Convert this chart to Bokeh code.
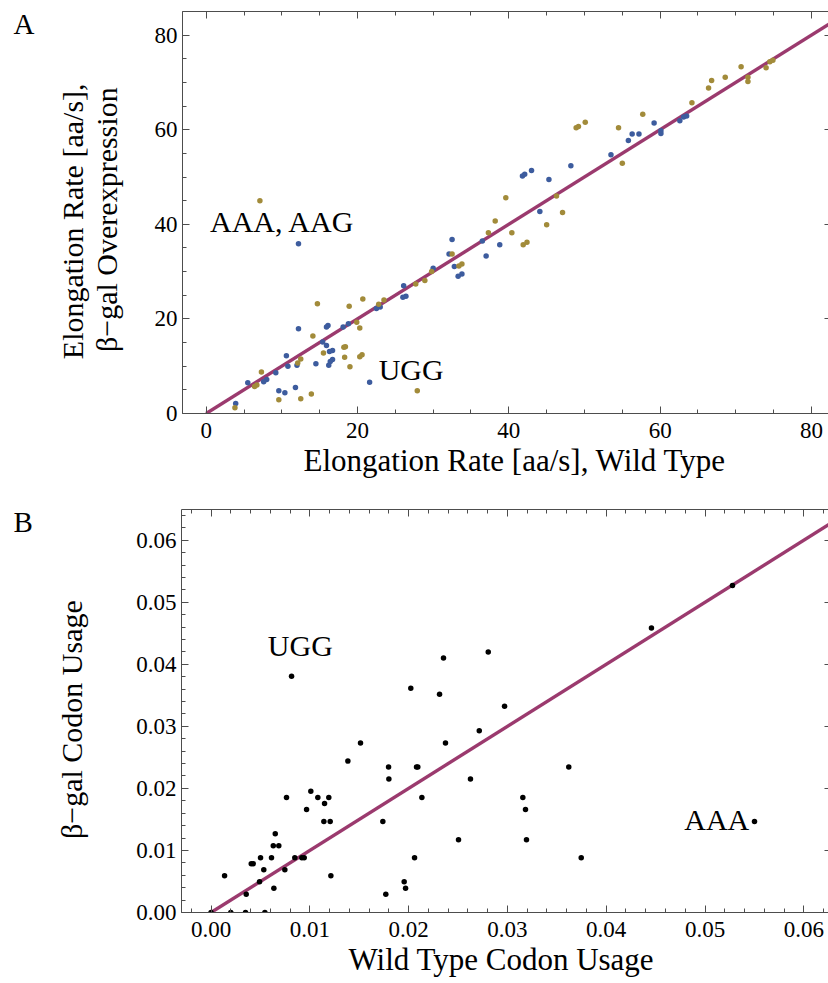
import math
from bokeh.plotting import figure
from bokeh.layouts import column, row
from bokeh.models import (Range1d, LinearAxis, SingleIntervalTicker, Label, Title,
                          PrintfTickFormatter, CustomJSTickFormatter)
from bokeh.embed import file_html
from bokeh.resources import INLINE

# ---------------- Panel A data: elongation rates [aa/s] ----------------
wt_blue = [12.2, 36.5, 38.8, 32.5, 32.1, 37.0, 32.8, 33.8, 33.3, 30.0, 26.1, 26.4, 26.0,
           23.0, 22.5, 18.1, 18.8, 16.1, 15.9, 12.2, 15.4, 15.9, 16.7, 16.3, 10.6, 10.8,
           12.0, 14.5, 16.7, 16.4, 16.2, 9.2, 8.0, 7.6, 5.5, 9.6, 10.4, 11.8, 3.9, 21.6,
           41.8, 42.1, 43.0, 45.3, 44.1, 48.2, 53.5, 55.8, 56.3, 57.2, 59.2, 60.1, 60.1,
           62.6, 63.1, 63.5]
oe_blue = [35.9, 36.5, 35.7, 36.8, 33.7, 33.3, 31.1, 29.5, 29.0, 30.7, 27.0, 24.8, 24.6,
           22.5, 22.2, 18.3, 19.0, 18.6, 18.3, 17.9, 15.1, 14.4, 13.3, 13.1, 12.2, 10.0,
           10.2, 10.5, 11.4, 11.0, 10.2, 8.6, 7.2, 6.7, 6.5, 4.8, 4.4, 5.5, 2.1, 6.6,
           50.2, 50.6, 51.4, 49.5, 42.7, 52.4, 54.7, 57.7, 59.1, 59.1, 61.4, 59.8, 59.2,
           61.9, 62.7, 62.9]
wt_gold = [7.1, 38.2, 37.3, 32.5, 33.8, 33.4, 29.8, 28.9, 27.7, 23.5, 22.8, 20.7, 18.9,
           14.7, 19.9, 20.3, 14.1, 18.2, 18.4, 15.5, 18.3, 20.3, 20.6, 19.0, 12.5, 12.1,
           7.3, 6.7, 6.4, 9.6, 12.5, 13.9, 3.8, 27.9, 39.6, 46.3, 47.1, 48.9, 49.2, 50.1,
           54.5, 55.0, 57.7, 64.2, 66.4, 66.8, 68.6, 70.7, 71.6, 71.6, 74.0, 74.5, 74.9,
           40.4, 45.0, 41.9, 42.4]
oe_gold = [45.0, 40.7, 38.2, 33.7, 31.6, 31.2, 30.0, 28.1, 27.4, 24.0, 23.1, 24.2, 22.7,
           23.2, 19.3, 18.1, 16.4, 14.0, 14.1, 12.8, 11.9, 12.0, 12.4, 9.9, 11.5, 10.7,
           8.8, 6.0, 5.7, 2.9, 3.1, 4.1, 1.2, 4.8, 45.6, 46.0, 42.5, 60.4, 60.7, 61.6,
           60.4, 52.9, 63.3, 65.7, 68.8, 70.4, 71.1, 73.3, 71.1, 70.2, 73.1, 74.4, 74.7,
           38.2, 39.9, 35.7, 36.2]
identity_a = [0, 85]

# ---------------- Panel B data: codon usage ----------------
wt_usage = [0.01513, 0.02373, 0.01385, 0.01797, 0.01800, 0.02080, 0.02093, 0.02134, 0.02626,
            0.00764, 0.01010, 0.01081, 0.01149, 0.01192, 0.00967, 0.01142, 0.01206, 0.01739,
            0.02505, 0.00650, 0.00630, 0.00686, 0.00501, 0.00612, 0.00848, 0.00919, 0.00943,
            0.00407, 0.00427, 0.00534, 0.00747, 0.00137, 0.00491, 0.01213, 0.00636, 0.00356,
            0.02060, 0.01955, 0.01969, 0.01769, 0.0, 0.00200, 0.00349, 0.00545, 0.00815,
            0.02022, 0.02313, 0.02353, 0.02806, 0.02715, 0.05278, 0.04458, 0.02971, 0.03621,
            0.03156, 0.03183, 0.03193, 0.03747, 0.05501]
bgal_usage = [0.02731, 0.02731, 0.02440, 0.02344, 0.02150, 0.02344, 0.02344, 0.01855, 0.02150,
              0.01855, 0.01956, 0.01855, 0.01758, 0.01855, 0.01661, 0.01468, 0.01468, 0.01468,
              0.01173, 0.01269, 0.01076, 0.01076, 0.00882, 0.00882, 0.00882, 0.00882, 0.00882,
              0.00785, 0.00785, 0.00689, 0.00689, 0.00592, 0.00495, 0.00592, 0.00392, 0.00295,
              0.00882, 0.00495, 0.00392, 0.00295, 0.0, 0.0, 0.0, 0.0, 0.03806,
              0.03613, 0.03516, 0.04102, 0.04198, 0.02931, 0.05269, 0.04585, 0.03323, 0.02344,
              0.01855, 0.01661, 0.01173, 0.00882, 0.01468]
identity_b = [0, 0.065]

FONT = "Liberation Serif"
AXC = "#4d4d4d"
LINEC = "#9b3a6e"
BLUE = "#3d5c9e"
GOLD = "#a28b3a"
LAB = "30px"
XLAB = "31px"
TICK = "23px"
SHIFT = 11   # compensates the renderer's baseline placement
RSHIFT = 22  # compensates the along-text drift of rotated labels


def style_axis(ax, interval, nminor, fmt=None, labels=True, line=True,
               major_in=7, minor_in=4, standoff=5):
    ax.ticker = SingleIntervalTicker(interval=interval, num_minor_ticks=nminor)
    ax.major_tick_in = major_in
    ax.major_tick_out = 0
    ax.minor_tick_in = minor_in
    ax.minor_tick_out = 0
    ax.axis_line_color = AXC if line else None
    ax.major_tick_line_color = AXC
    ax.minor_tick_line_color = AXC if minor_in else None
    ax.major_label_text_font = FONT
    ax.major_label_text_color = "black"
    if labels:
        ax.major_label_text_font_size = TICK
        ax.major_label_standoff = standoff
        if fmt:
            ax.formatter = PrintfTickFormatter(format=fmt)
    else:
        ax.formatter = CustomJSTickFormatter(code="return ''")
        ax.major_label_text_font_size = "1px"
        ax.major_label_standoff = 0


def add_text(p, text, x, y, rotated=False, align="left", style="normal", size=LAB):
    p.add_layout(Label(x=x, y=y, text=text, angle=(math.pi / 2 if rotated else 0.0),
                       x_offset=(-SHIFT if rotated else 0),
                       y_offset=(-RSHIFT if rotated else SHIFT),
                       text_align=align, text_baseline="alphabetic", text_font=FONT,
                       text_font_size=size, text_font_style=style, text_color="black"))


def side_panel(width, height, y_top):
    # blank strip left of a panel; its data units are page pixels
    s = figure(width=width, height=height, x_range=Range1d(0, width),
               y_range=Range1d(y_top + height, y_top), x_axis_type=None, y_axis_type=None,
               title=None, output_backend="svg", toolbar_location=None, min_border=0)
    s.outline_line_color = None
    return s


def x_title(p, text, offset):
    p.add_layout(Title(text=text, align="left", offset=offset, standoff=0,
                       text_font=FONT, text_font_size=XLAB, text_font_style="normal",
                       text_color="black"), "below")


# ================= Panel A =================
HA = 488
SWA = 140
pA = figure(width=828 - SWA, height=HA, x_range=Range1d(-3.13, 82.25), y_range=Range1d(0, 85),
            title=None, output_backend="svg", toolbar_location=None,
            min_border_left=182 - SWA, min_border_right=0, min_border_top=11,
            min_border_bottom=75)
pA.grid.visible = False
pA.outline_line_color = None
style_axis(pA.xaxis[0], 20, 4, standoff=9)
style_axis(pA.yaxis[0], 20, 4, standoff=5)
topA = LinearAxis()
rightA = LinearAxis()
pA.add_layout(topA, "above")
pA.add_layout(rightA, "right")
style_axis(topA, 20, 4, labels=False)
style_axis(rightA, 20, 4, labels=False, line=False, major_in=4, minor_in=0)
x_title(pA, "Elongation Rate [aa/s], Wild Type", 121)

pA.line(identity_a, identity_a, line_color=LINEC, line_width=3.4)
pA.scatter(wt_blue, oe_blue, size=5.5, fill_color=BLUE, line_color=None)
pA.scatter(wt_gold, oe_gold, size=5.5, fill_color=GOLD, line_color=None)

add_text(pA, "AAA, AAG", 0.5, 38.3)
add_text(pA, "UGG", 22.8, 7.07)

sA = side_panel(SWA, HA, 0)
add_text(sA, "A", 13, 29, size="29px")
add_text(sA, "Elongation Rate [aa/s],", 83, 228, rotated=True, align="center")
add_text(sA, "\u03b2\u2212gal Overexpression", 117, 226, rotated=True, align="center")

# ================= Panel B =================
HB = 495
SWB = 125
pB = figure(width=828 - SWB, height=HB, x_range=Range1d(-0.00299, 0.0625),
            y_range=Range1d(0, 0.06495), title=None, output_backend="svg",
            toolbar_location=None, min_border_left=181 - SWB, min_border_right=0,
            min_border_top=21, min_border_bottom=71)
pB.grid.visible = False
pB.outline_line_color = None
style_axis(pB.xaxis[0], 0.01, 5, fmt="%.2f", standoff=9)
style_axis(pB.yaxis[0], 0.01, 5, fmt="%.2f", standoff=5)
topB = LinearAxis()
rightB = LinearAxis()
pB.add_layout(topB, "above")
pB.add_layout(rightB, "right")
style_axis(topB, 0.01, 5, labels=False)
style_axis(rightB, 0.01, 5, labels=False, line=False, major_in=4, minor_in=0)
x_title(pB, "Wild Type Codon Usage", 167)

pB.line(identity_b, identity_b, line_color=LINEC, line_width=3.4)
pB.scatter(wt_usage, bgal_usage, size=5.5, fill_color="black", line_color=None)

add_text(pB, "UGG", 0.00575, 0.04118)
add_text(pB, "AAA", 0.0479, 0.01323)

sB = side_panel(SWB, HB, HA)
add_text(sB, "B", 13, 517, size="29px")
add_text(sB, "\u03b2\u2212gal Codon Usage", 82, 719, rotated=True, align="center")

layout = column(row(sA, pA), row(sB, pB))
open("out.html", "w").write(file_html(layout, INLINE))
